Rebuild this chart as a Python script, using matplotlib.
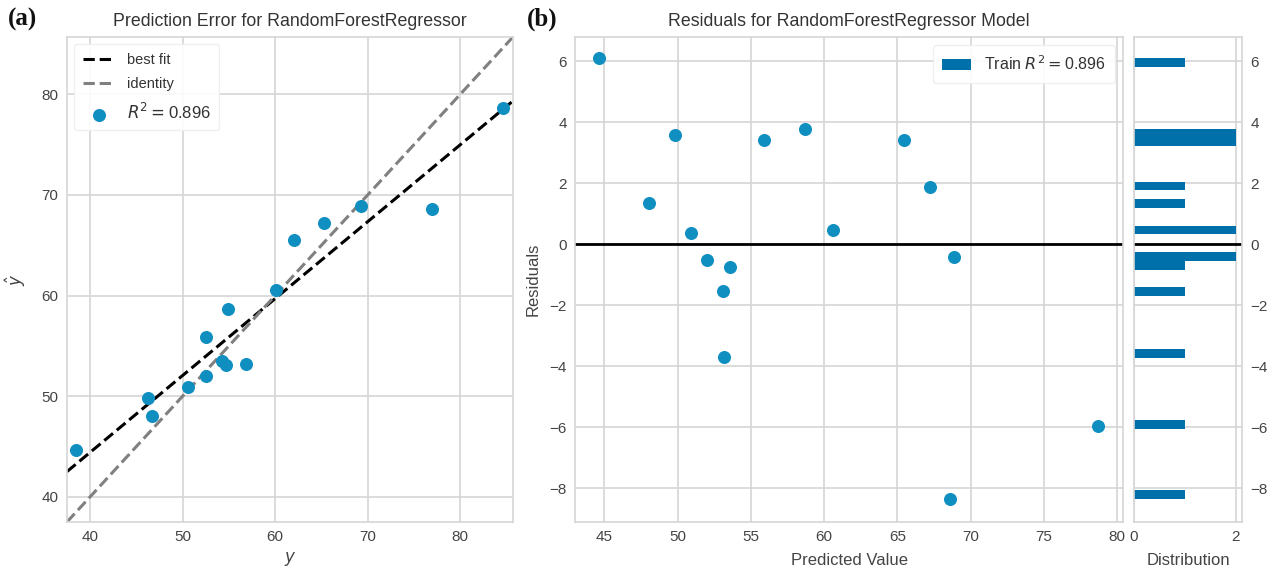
import numpy as np
import matplotlib
matplotlib.use("Agg")
import matplotlib.pyplot as plt

plt.rcParams['font.family'] = ['Liberation Sans', 'DejaVu Sans']

y_true = [38.53, 46.71, 46.21, 50.53, 52.55, 54.28, 54.64, 56.88,
          52.48, 54.90, 60.11, 62.06, 65.31, 69.28, 76.92, 84.62]
y_pred = [44.64, 48.07, 49.80, 50.91, 52.03, 53.55, 53.10, 53.20,
          55.90, 58.68, 60.59, 65.48, 67.20, 68.86, 68.57, 78.68]
r2_text = "0.896"

left_ticks = [40, 50, 60, 70, 80]
pred_ticks = [45, 50, 55, 60, 65, 70, 75, 80]
resid_ticks = [-8, -6, -4, -2, 0, 2, 4, 6]

POINT = '#0f8fc0'
BAR = '#0070aa'
GRID = '#d5d5d5'
TXT = '#444444'

y_true = np.array(y_true)
y_pred = np.array(y_pred)
residuals = y_pred - y_true


def style_axes(ax):
    ax.set_facecolor('white')
    ax.grid(True, color=GRID, linewidth=1.2)
    ax.set_axisbelow(True)
    for s in ax.spines.values():
        s.set_color(GRID)
        s.set_linewidth(1.2)
    ax.tick_params(colors=TXT, labelsize=11, length=0, pad=6)


fig = plt.figure(figsize=(12.75, 5.72), dpi=100)

# (a) prediction error
ax1 = fig.add_axes([0.0525, 0.0874, 0.3498, 0.8479])
style_axes(ax1)
lim = (37.5, 85.7)
xs = np.array(lim)
slope, icpt = np.polyfit(y_true, y_pred, 1)
ax1.plot(xs, slope * xs + icpt, color='black', linestyle='--', linewidth=2.2, label='best fit')
ax1.plot(xs, xs, color='#808080', linestyle='--', linewidth=2.2, label='identity')
ax1.scatter(y_true, y_pred, s=70, color=POINT, zorder=3, label=r'$R^2 = $' + r2_text)
ax1.set_xlim(lim)
ax1.set_ylim(lim)
ax1.set_xticks(left_ticks)
ax1.set_yticks(left_ticks)
ax1.set_title('Prediction Error for RandomForestRegressor', fontsize=12.8, color='#333333', pad=8)
ax1.set_xlabel(r'$y$', fontsize=12, color=TXT, labelpad=4)
ax1.set_ylabel(r'$\hat{y}$', fontsize=12, color=TXT, labelpad=10)
leg = ax1.legend(loc='upper left', fontsize=10.5, frameon=True, framealpha=0.9,
                 edgecolor='#eeeeee', handlelength=2.2, borderpad=0.6, labelspacing=0.7)
for t in leg.get_texts():
    t.set_color('#333333')
leg.get_texts()[2].set_fontsize(12)

# (b) residuals
ax2 = fig.add_axes([0.451, 0.0874, 0.4298, 0.8479])
style_axes(ax2)
ax2.scatter(y_pred, residuals, s=70, color=POINT, zorder=3)
ax2.axhline(0, color='black', linewidth=2, zorder=2)
ax2.set_xlim(43.0, 80.4)
ax2.set_ylim(-9.1, 6.8)
ax2.set_xticks(pred_ticks)
ax2.set_yticks(resid_ticks)
ax2.set_title('Residuals for RandomForestRegressor Model', fontsize=12.8, color='#333333', pad=8)
ax2.set_xlabel('Predicted Value', fontsize=12, color=TXT, labelpad=6)
ax2.set_ylabel('Residuals', fontsize=12, color=TXT, labelpad=6)
ax2.bar([0], [0], color=BAR, label=r'Train $R^2 = $' + r2_text)
leg2 = ax2.legend(loc='upper right', fontsize=11.5, frameon=True, framealpha=0.9,
                  edgecolor='#eeeeee', handlelength=1.8, borderpad=0.6)
for t in leg2.get_texts():
    t.set_color('#333333')

# residual distribution
ax3 = fig.add_axes([0.8894, 0.0874, 0.0847, 0.8479], sharey=ax2)
style_axes(ax3)
ax3.hist(residuals, bins=50, orientation='horizontal', color=BAR)
ax3.axhline(0, color='black', linewidth=2)
ax3.set_xlim(0, 2.12)
ax3.set_xticks([0, 2])
ax3.yaxis.tick_right()
ax3.tick_params(axis='y', labelright=True, labelleft=False)
ax3.set_xlabel('Distribution', fontsize=12, color=TXT, labelpad=6)

fig.text(0.006, 0.955, '(a)', fontsize=18, fontweight='bold', family='Liberation Serif', color='#111111')
fig.text(0.413, 0.955, '(b)', fontsize=18, fontweight='bold', family='Liberation Serif', color='#111111')

fig.savefig('out.png', dpi=100, facecolor='white')
